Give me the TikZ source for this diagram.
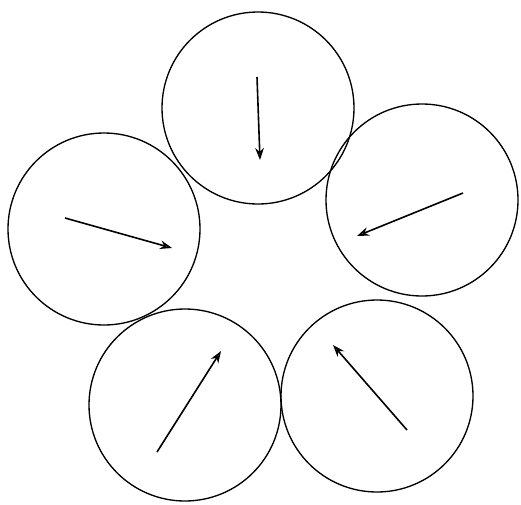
\documentclass[tikz,border=0pt]{standalone}
\usepackage{tikz}
\usetikzlibrary{arrows.meta}

\tikzset{
	dish/.style={draw, circle, line width=1pt, minimum size=144pt, inner sep=0pt},
	needle/.style={line width=1.2pt, -{Stealth[open, length=9pt, width=6.5pt]}}
}

\begin{document}
\begin{tikzpicture}[x=0.75pt,y=0.75pt,yscale=-1,xscale=1]
				\useasboundingbox (0,0) rectangle (521,504);
				\node [dish] (dishT) at (258,108) {};
				\node [dish] (dishR) at (422,200) {};
				\node [dish] (dishL) at (104,229) {};
				\node [dish] (dishBL) at (185,405) {};
				\node [dish] (dishBR) at (377,396) {};
				\coordinate (tailT) at (257,77);
				\coordinate (tipT) at (260,160);
				\coordinate (tailR) at (463,193);
				\coordinate (tipR) at (357,236);
				\coordinate (tailL) at (65,218);
				\coordinate (tipL) at (172,248);
				\coordinate (tailBL) at (157,452);
				\coordinate (tipBL) at (221,351);
				\coordinate (tailBR) at (407,430);
				\coordinate (tipBR) at (333,345);
				\draw [needle] (tailT) -- (tipT);
				\draw [needle] (tailR) -- (tipR);
				\draw [needle] (tailL) -- (tipL);
				\draw [needle] (tailBL) -- (tipBL);
				\draw [needle] (tailBR) -- (tipBR);
\end{tikzpicture}
\end{document}
